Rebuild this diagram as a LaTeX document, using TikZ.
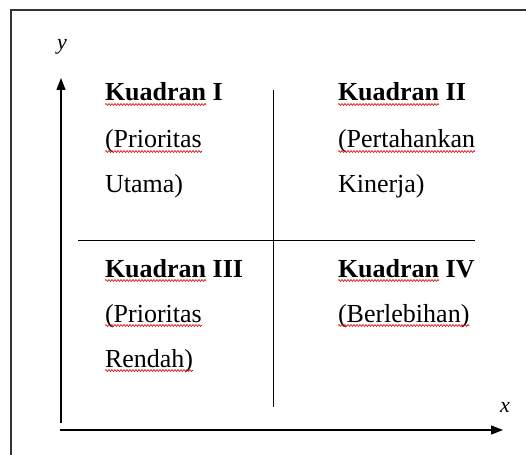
\documentclass[tikz,border=0pt]{standalone}
\usepackage{fontspec}
\setmainfont{Liberation Serif}
\usetikzlibrary{arrows.meta,decorations.pathmorphing}
\begin{document}
\begin{tikzpicture}[x=1pt,y=-1pt,
  every node/.style={inner sep=0pt,outer sep=0pt,anchor=base west,font=\fontsize{26}{30}\selectfont},
  axis/.style={line width=1.2pt,-{Triangle[length=12pt,width=9pt]}},
  divider/.style={line width=1pt},
  frame/.style={line width=1.3pt,draw=black!80},
  axlabel/.style={anchor=center,font=\fontsize{22}{26}\selectfont\itshape},
  spell/.style={draw=red!85!black,line width=0.6pt,decorate,decoration={snake,amplitude=1pt,segment length=3pt}}]
\useasboundingbox (0,0) rectangle (526,454);
% frame (continues past the right and bottom edges)
\coordinate (fb) at (11,460);
\coordinate (ftl) at (11,10);
\coordinate (fr) at (530,10);
\draw[frame] (fb) -- (ftl) -- (fr);
% axes
\coordinate (yb) at (61,423);
\coordinate (yt) at (61,78);
\coordinate (xl) at (60,430);
\coordinate (xr) at (503,430);
\draw[axis] (yb) -- (yt);
\draw[axis] (xl) -- (xr);
\node[axlabel] (ylab) at (62,47) {y};
\node[axlabel] (xlab) at (505,407) {x};
% dividers
\coordinate (hl) at (78,240);
\coordinate (hr) at (475,240);
\coordinate (vt) at (273,90);
\coordinate (vb) at (273,407);
\draw[divider] (hl) -- (hr);
\draw[divider] (vt) -- (vb);
% quadrant I
\node (k1) at (105,101) {\textbf{Kuadran}};
\node (k1n) at ([xshift=6.5pt]k1.base east) {\textbf{I}};
\node (p1) at (105,148) {(Prioritas};
\node (u1) at (105,193) {Utama)};
% quadrant II
\node (k2) at (338,101) {\textbf{Kuadran}};
\node (k2n) at ([xshift=6.5pt]k2.base east) {\textbf{II}};
\node (p2) at (338,148) {(Pertahankan};
\node (u2) at (338,193) {Kinerja)};
% quadrant III
\node (k3) at (105,277) {\textbf{Kuadran}};
\node (k3n) at ([xshift=6.5pt]k3.base east) {\textbf{III}};
\node (p3) at (105,322) {(Prioritas};
\node (u3) at (105,367) {Rendah)};
% quadrant IV
\node (k4) at (338,277) {\textbf{Kuadran}};
\node (k4n) at ([xshift=6.5pt]k4.base east) {\textbf{IV}};
\node (p4) at (338,322) {(Berlebihan)};
% spell-check underlines
\foreach \n in {k1,k2,k3,k4,p1,p2,p3,u3,p4}
  \draw[spell] ([yshift=-3.5pt]\n.base west) -- ([yshift=-3.5pt]\n.base east);
\end{tikzpicture}
\end{document}
